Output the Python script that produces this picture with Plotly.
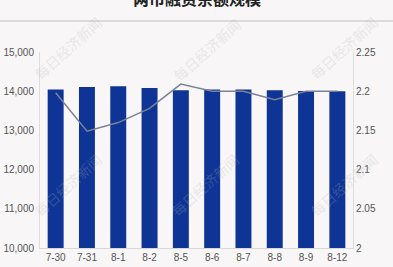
import plotly.graph_objects as go

categories = ["7-30", "7-31", "8-1", "8-2", "8-5", "8-6", "8-7", "8-8", "8-9", "8-12"]
balance = [14043, 14110, 14127, 14084, 14025, 14043, 14043, 14025, 14008, 14000]
ratio = [2.198, 2.149, 2.160, 2.178, 2.209, 2.200, 2.200, 2.189, 2.200, 2.200]
left_ticks = [10000, 11000, 12000, 13000, 14000, 15000]
right_ticks = [2, 2.05, 2.1, 2.15, 2.2, 2.25]
title_text = "两市融资余额规模"
watermark = "每日经济新闻"

W, H = 393, 267
L, R, T, B = 40, 40, 52, 19
pw, ph = W - L - R, H - T - B

def px(x):
    return (x - L) / pw

def py(y):
    return 1 - (y - T) / ph

fig = go.Figure()
fig.add_trace(go.Bar(x=categories, y=balance, marker=dict(color="#0e3496", line=dict(width=0)),
                     yaxis="y", showlegend=False))
fig.add_trace(go.Scatter(x=categories, y=ratio, mode="lines", line=dict(color="#7b8196", width=1.5),
                         yaxis="y2", showlegend=False))

annotations = [dict(text="<b>" + title_text + "</b>", x=0.5, y=py(-2), xref="paper", yref="paper",
                    showarrow=False, xanchor="center", yanchor="middle",
                    font=dict(size=16, color="#222222", family="Noto Sans CJK SC"))]
for (wx, wy) in [(68, 48), (207, 50), (344, 48), (68, 185), (205, 185), (344, 185)]:
    annotations.append(dict(text=watermark, x=px(wx), y=py(wy), xref="paper", yref="paper",
                            showarrow=False, textangle=-42, xanchor="center", yanchor="middle",
                            font=dict(size=14, color="rgba(180,180,180,0.25)", family="Noto Sans CJK SC")))

fig.update_layout(
    width=W, height=H,
    margin=dict(l=L, r=R, t=T, b=B, pad=0, autoexpand=False),
    paper_bgcolor="#f8f6f7", plot_bgcolor="#f8f6f7",
    bargap=0.49,
    font=dict(family="Liberation Sans, Arial, sans-serif", size=10, color="#555555"),
    xaxis=dict(type="category", showgrid=False, showline=True, linecolor="#d8d8d8", linewidth=1,
               ticks="", automargin=False, tickfont=dict(size=10, color="#555555")),
    yaxis=dict(range=[10000, 15000], tickvals=left_ticks, tickformat=",d", showgrid=False,
               showline=True, linecolor="#dddddd", linewidth=1, ticks="", zeroline=False,
               automargin=False, ticklabelstandoff=3, tickfont=dict(size=10, color="#555555")),
    yaxis2=dict(range=[2, 2.25], tickvals=right_ticks, ticktext=[str(v) for v in right_ticks],
                overlaying="y", side="right", showgrid=False, showline=True, linecolor="#dddddd",
                linewidth=1, ticks="", zeroline=False, automargin=False,
                tickfont=dict(size=10, color="#555555")),
    annotations=annotations,
    shapes=[dict(type="line", xref="paper", yref="paper", x0=px(0), x1=px(W), y0=py(21), y1=py(21),
                 line=dict(color="#d2d2d2", width=1.5))],
)

fig.write_html("out.html", config={"displayModeBar": False})
